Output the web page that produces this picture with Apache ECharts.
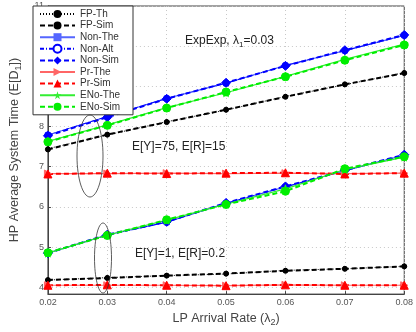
<!DOCTYPE html>
<html>
<head>
<meta charset="utf-8">
<script src="https://cdn.jsdelivr.net/npm/echarts@6.0.0/dist/echarts.min.js"></script>
<style>
  html, body { margin: 0; padding: 0; background: #fff; }
  #chart { width: 416px; height: 332px; }
</style>
</head>
<body>
<div id="chart"></div>
<script>
// LP arrival rate (x)
const lambda2 = [0.02, 0.03, 0.04, 0.05, 0.06, 0.07, 0.08];
const yTicks = [4, 5, 6, 7, 8, 9, 10, 11];

// E[Y]=75, E[R]=15 group
const fpTh75   = [7.45, 7.79, 8.12, 8.41, 8.75, 9.04, 9.34];
const fpSim75  = [7.43, 7.80, 8.11, 8.42, 8.74, 9.05, 9.33];
const nonThe75 = [7.79, 8.25, 8.70, 9.08, 9.52, 9.89, 10.27];
const nonAlt75 = [7.79, 8.25, 8.70, 9.08, 9.52, 9.89, 10.27];
const nonSim75 = [7.77, 8.23, 8.69, 9.09, 9.51, 9.90, 10.28];
const prThe75  = [6.83, 6.83, 6.84, 6.83, 6.84, 6.83, 6.84];
const prSim75  = [6.82, 6.84, 6.83, 6.84, 6.85, 6.82, 6.84];
const enoThe75 = [7.63, 8.04, 8.47, 8.84, 9.25, 9.67, 10.05];
const enoSim75 = [7.62, 8.03, 8.46, 8.86, 9.24, 9.65, 10.03];

// E[Y]=1, E[R]=0.2 group
const fpTh1   = [4.18, 4.24, 4.29, 4.33, 4.42, 4.46, 4.52];
const fpSim1  = [4.18, 4.23, 4.29, 4.34, 4.41, 4.46, 4.52];
const nonThe1 = [4.85, 5.30, 5.62, 6.09, 6.50, 6.90, 7.29];
const nonAlt1 = [4.85, 5.30, 5.62, 6.09, 6.50, 6.90, 7.29];
const nonSim1 = [4.85, 5.31, 5.63, 6.10, 6.51, 6.91, 7.30];
const prThe1  = [4.05, 4.05, 4.05, 4.04, 4.06, 4.05, 4.05];
const prSim1  = [4.05, 4.06, 4.05, 4.04, 4.06, 4.05, 4.05];
const enoThe1 = [4.85, 5.30, 5.67, 6.07, 6.45, 6.93, 7.24];
const enoSim1 = [4.86, 5.29, 5.68, 6.06, 6.39, 6.95, 7.25];

const star = 'path://M50,0L61,35H98L68,57L79,91L50,70L21,91L32,57L2,35H39Z';

const styles = {
  'FP-Th':   { color: '#000', width: 1,   type: [1, 2],        symbol: 'circle', size: 4 },
  'FP-Sim':  { color: '#000', width: 2,   type: [5, 3],        symbol: 'circle', size: 5 },
  'Non-The': { color: '#5566ff', width: 1.2, type: 'solid',    symbol: 'rect', size: 5 },
  'Non-Alt': { color: '#0000ff', width: 1, type: [4, 2, 1, 2], symbol: 'emptyCircle', size: 5 },
  'Non-Sim': { color: '#0000ff', width: 2, type: [5, 3],       symbol: 'diamond', size: 9 },
  'Pr-The':  { color: '#ff6666', width: 1.2, type: 'solid',    symbol: 'triangle', size: 7, rotate: -90 },
  'Pr-Sim':  { color: '#ff0000', width: 2, type: [5, 3],       symbol: 'triangle', size: 8 },
  'ENo-The': { color: '#33ee33', width: 1.2, type: 'solid',    symbol: star, size: 8 },
  'ENo-Sim': { color: '#00ee00', width: 2, type: [5, 3],       symbol: 'circle', size: 8 }
};

const groups = [
  ['FP-Th', fpTh75, fpTh1],
  ['FP-Sim', fpSim75, fpSim1],
  ['Non-The', nonThe75, nonThe1],
  ['Non-Alt', nonAlt75, nonAlt1],
  ['Non-Sim', nonSim75, nonSim1],
  ['Pr-The', prThe75, prThe1],
  ['Pr-Sim', prSim75, prSim1],
  ['ENo-The', enoThe75, enoThe1],
  ['ENo-Sim', enoSim75, enoSim1]
];

function line(name, vals) {
  const s = styles[name];
  return {
    name: name,
    type: 'line',
    data: lambda2.map((x, i) => [x, vals[i]]),
    symbol: s.symbol,
    symbolSize: s.size,
    symbolRotate: s.rotate || 0,
    lineStyle: { color: s.color, width: s.width, type: s.type },
    itemStyle: { color: s.color, borderColor: s.color },
    animation: false
  };
}

const series = [];
groups.forEach(g => {
  series.push(line(g[0], g[1]));
  series.push(line(g[0], g[2]));
});

const chart = echarts.init(document.getElementById('chart'));
chart.setOption({
  backgroundColor: '#fff',
  textStyle: { fontFamily: 'Liberation Sans, Arial, sans-serif' },
  grid: { left: 36, right: 9, top: 6, bottom: 34, show: true, borderColor: '#444', borderWidth: 1 },
  legend: {
    data: groups.map(g => g[0]),
    orient: 'vertical',
    left: 33, top: 6,
    itemWidth: 35, itemHeight: 10, itemGap: 1.6,
    padding: [3, 13, 3, 6],
    borderColor: '#333', borderWidth: 1, backgroundColor: '#fff',
    textStyle: { fontSize: 10, color: '#333' }
  },
  xAxis: {
    type: 'value', min: 0.02, max: 0.08, interval: 0.01,
    name: 'LP Arrival Rate (λ{sub|2})',
    nameLocation: 'middle', nameGap: 13,
    nameTextStyle: { fontSize: 12.5, color: '#444', rich: { sub: { fontSize: 9, padding: [8, 0, 0, 0] } } },
    axisLine: { lineStyle: { color: '#444' } },
    axisTick: { inside: true, length: 3, lineStyle: { color: '#444' } },
    axisLabel: { fontSize: 9, color: '#555', margin: 4, formatter: v => v.toFixed(2) },
    splitLine: { lineStyle: { color: '#c8c8c8', type: [1, 3] } }
  },
  yAxis: {
    type: 'value', min: 3.83, max: 11,
    name: 'HP Average System Time (E[D{sub|1}])',
    nameLocation: 'middle', nameGap: 20,
    nameTextStyle: { fontSize: 12.5, color: '#444', rich: { sub: { fontSize: 9, padding: [8, 0, 0, 0] } } },
    axisLine: { lineStyle: { color: '#444' } },
    axisTick: { inside: true, length: 3, customValues: yTicks, lineStyle: { color: '#444' } },
    axisLabel: { fontSize: 9, color: '#555', margin: 4, customValues: yTicks },
    splitLine: { lineStyle: { color: '#c8c8c8', type: [1, 3] } }
  },
  graphic: [
    { type: 'ellipse', shape: { cx: 90, cy: 156, rx: 13, ry: 41 }, style: { fill: null, stroke: '#333', lineWidth: 0.8 }, z: 10 },
    { type: 'ellipse', shape: { cx: 103, cy: 258, rx: 8.5, ry: 35 }, style: { fill: null, stroke: '#333', lineWidth: 0.8 }, z: 10 },
    { type: 'text', left: 185, top: 35, z: 10, style: { text: 'ExpExp, λ{sub|1}=0.03', fontSize: 12, fill: '#222', fontFamily: 'Liberation Sans', rich: { sub: { fontSize: 8, padding: [8, 0, 0, 0] } } } },
    { type: 'text', left: 132, top: 141, z: 10, style: { text: 'E[Y]=75, E[R]=15', fontSize: 12, fill: '#222', fontFamily: 'Liberation Sans' } },
    { type: 'text', left: 135, top: 248, z: 10, style: { text: 'E[Y]=1, E[R]=0.2', fontSize: 12, fill: '#222', fontFamily: 'Liberation Sans' } }
  ],
  series: series
});
</script>
</body>
</html>
